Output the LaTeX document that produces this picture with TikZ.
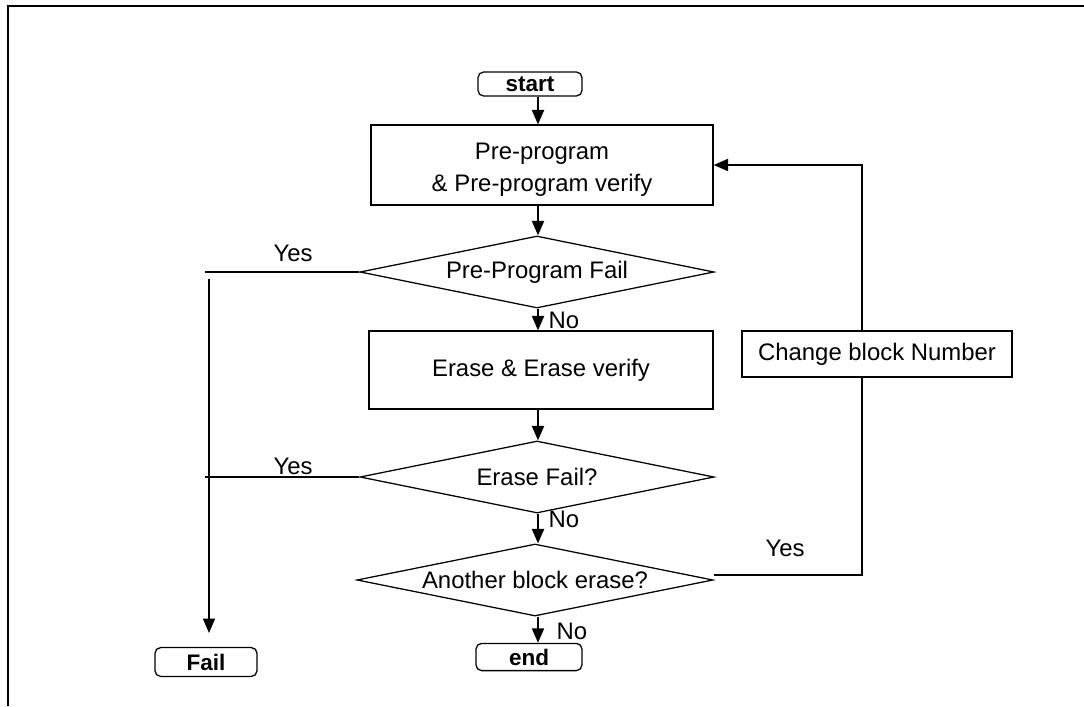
\documentclass[tikz,border=0pt]{standalone}
\usepackage{fontspec}
\setmainfont{Liberation Sans}
\usetikzlibrary{arrows.meta,calc,positioning,shapes.geometric}

\begin{document}
\begin{tikzpicture}[
    x=0.025cm,
    y=-0.025cm,
    >={Triangle[length=3.6mm, width=3mm]},
    term/.style={draw, rounded corners=4pt, line width=0.9pt, font=\fontsize{16}{18}\selectfont\bfseries, inner sep=0pt},
    block/.style={draw, line width=0.9pt, align=center, font=\fontsize{17}{23}\selectfont, inner sep=0pt},
    decision/.style={draw, diamond, aspect=4.9, line width=0.9pt, font=\fontsize{17}{20}\selectfont, inner sep=0pt, minimum width=8.85cm, minimum height=1.8cm},
    note/.style={font=\fontsize{17}{20}\selectfont, inner sep=0pt},
    line/.style={->, line width=1.4pt},
    wire/.style={line width=1.4pt}
]
\useasboundingbox (0,0) rectangle (1084,706);
\draw[line width=1pt] (8,706) -- (8,6) -- (1084,6);

\node[term, minimum width=2.6cm, minimum height=0.6cm] (start) at (530,84) {start};
\node[block, minimum width=8.55cm, minimum height=2cm] (preprog) at (542,165) {};
\node[block, draw=none] (pptext) at (542,170) {Pre-program\\\& Pre-program verify};
\node[decision] (ppfail) at (537,272) {Pre-Program Fail};
\node[block, minimum width=8.6cm, minimum height=1.95cm] (erase) at (541,370) {Erase \& Erase verify};
\node[decision] (erfail) at (537,477) {Erase Fail?};
\node[decision, minimum width=8.9cm] (another) at (535,580) {Another block erase?};
\node[term, minimum width=2.65cm, minimum height=0.68cm] (endnode) at (529,657) {end};
\node[term, minimum width=2.55cm, minimum height=0.72cm] (fail) at (206,662) {Fail};
\node[block, minimum width=6.75cm, minimum height=1.15cm] (chgblk) at (877,354) {Change block Number};

\coordinate (yes1) at (205,272);
\coordinate (yes2) at (209,477);
\coordinate (failtop) at (209,279);
\coordinate (failin) at (209,633);
\coordinate (loopb) at (862,377);
\coordinate (loopt) at (862,331);

\draw[line] (start.south -| 538,0) -- (preprog.north -| 538,0);
\draw[line] (preprog.south -| 538,0) -- (ppfail.north -| 538,0);
\draw[line] (ppfail.south -| 538,0) -- (erase.north -| 538,0);
\draw[line] (erase.south -| 538,0) -- (erfail.north -| 538,0);
\draw[line] (erfail.south -| 538,0) -- (another.north -| 538,0);
\draw[line] (another.south -| 538,0) -- (endnode.north -| 538,0);

\draw[wire] (ppfail.west) -- (yes1);
\draw[line, line width=1pt] (failtop) -- (failin);
\draw[wire] (erfail.west) -- (yes2 -| yes1);

\draw[line width=1pt] (another.east) ++(0,-5) -| (loopb);
\draw[line] (loopt) |- (preprog.east);

\node[note] (ylab1) at (293,253) {Yes};
\node[note] (ylab2) at (293,466) {Yes};
\node[note] (ylab3) at (785,548) {Yes};
\node[note] (nlab1) at (564,320) {No};
\node[note] (nlab2) at (564,519) {No};
\node[note] (nlab3) at (572,631) {No};
\end{tikzpicture}
\end{document}
